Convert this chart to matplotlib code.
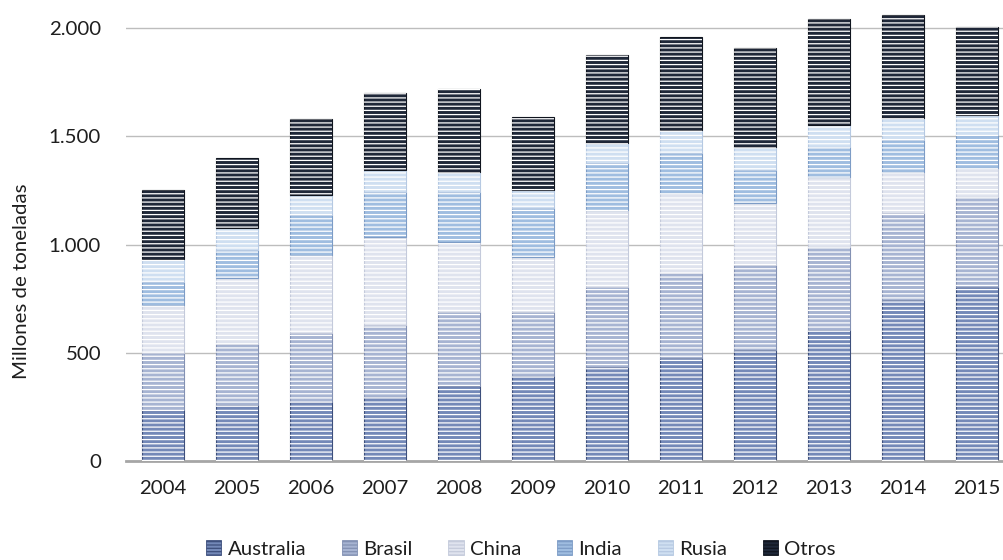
import matplotlib.pyplot as plt
import matplotlib.patches as mpatches
from matplotlib.ticker import FuncFormatter

plt.rcParams['font.family'] = ['Lato', 'DejaVu Sans']
plt.rcParams['hatch.linewidth'] = 0.9

# Producción de mineral de hierro por país (millones de toneladas)
years = ['2004', '2005', '2006', '2007', '2008', '2009',
         '2010', '2011', '2012', '2013', '2014', '2015']
australia = [236, 259, 273, 296, 345, 393, 434, 476, 513, 605, 744, 804]
brasil = [263, 281, 318, 332, 343, 295, 370, 392, 392, 383, 401, 415]
china = [220, 305, 360, 407, 324, 254, 355, 370, 287, 324, 190, 134]
india = [107, 130, 185, 208, 231, 227, 217, 185, 152, 138, 148, 153]
rusia = [106, 101, 93, 101, 92, 83, 93, 106, 106, 102, 101, 92]
otros = [320, 324, 351, 356, 383, 337, 406, 429, 458, 490, 476, 407]

series = [
    ('Australia', australia, '#7489b8', '#3d4f7c'),
    ('Brasil', brasil, '#a7b4d2', '#8391b3'),
    ('China', china, '#dfe3ee', '#c4cadb'),
    ('India', india, '#9fbde0', '#7d9cc6'),
    ('Rusia', rusia, '#cfdff1', '#b6c9e2'),
    ('Otros', otros, '#1f2839', '#10151f'),
]

fig = plt.figure(figsize=(10.04, 5.6), dpi=100)
# eje que se extiende más allá del borde derecho
ax = fig.add_axes([126 / 1004, 99 / 560, 888 / 1004, 461 / 560])

x = range(len(years))
width = 0.57
bottom = [0] * len(years)
handles = []
for name, vals, color, edge in series:
    ax.bar(x, vals, width, bottom=bottom, color=color, edgecolor=edge,
           linewidth=0.8, zorder=2)
    # rayas blancas horizontales
    ax.bar(x, vals, width, bottom=bottom, fill=False, hatch='----',
           edgecolor='white', linewidth=0, zorder=3)
    handles.append(mpatches.Patch(facecolor=color, edgecolor=edge,
                                  hatch='-----', linewidth=0.6, label=name))
    bottom = [b + v for b, v in zip(bottom, vals)]

ax.set_xlim(-0.5, len(years) - 0.5)
ax.set_ylim(0, 2130)
ax.set_yticks([0, 500, 1000, 1500, 2000])
ax.yaxis.set_major_formatter(FuncFormatter(lambda v, p: f'{int(v):,}'.replace(',', '.')))
ax.set_xticks(list(x))
ax.set_xticklabels(years)

ax.grid(axis='y', color='#bdbdbd', linewidth=1, zorder=0)
ax.set_axisbelow(True)
for s in ['top', 'right', 'left']:
    ax.spines[s].set_visible(False)
ax.spines['bottom'].set_color('#a6a6a6')
ax.spines['bottom'].set_linewidth(2)
ax.tick_params(axis='both', length=0, labelsize=14.7, colors='#1e1e1e')
ax.tick_params(axis='y', pad=18)
ax.tick_params(axis='x', pad=14)

fig.text(22 / 1004, 1 - 281 / 560, 'Millones de toneladas', rotation=90,
         ha='center', va='center', fontsize=14.7, color='#1e1e1e')

fig.legend(handles=handles, loc='center', bbox_to_anchor=(521 / 1004, 1 - 549 / 560),
           ncol=6, frameon=False, fontsize=14.7, handlelength=0.75,
           handleheight=0.75, handletextpad=0.3, columnspacing=1.75,
           labelcolor='#1e1e1e')

fig.savefig('out.png', dpi=100)
